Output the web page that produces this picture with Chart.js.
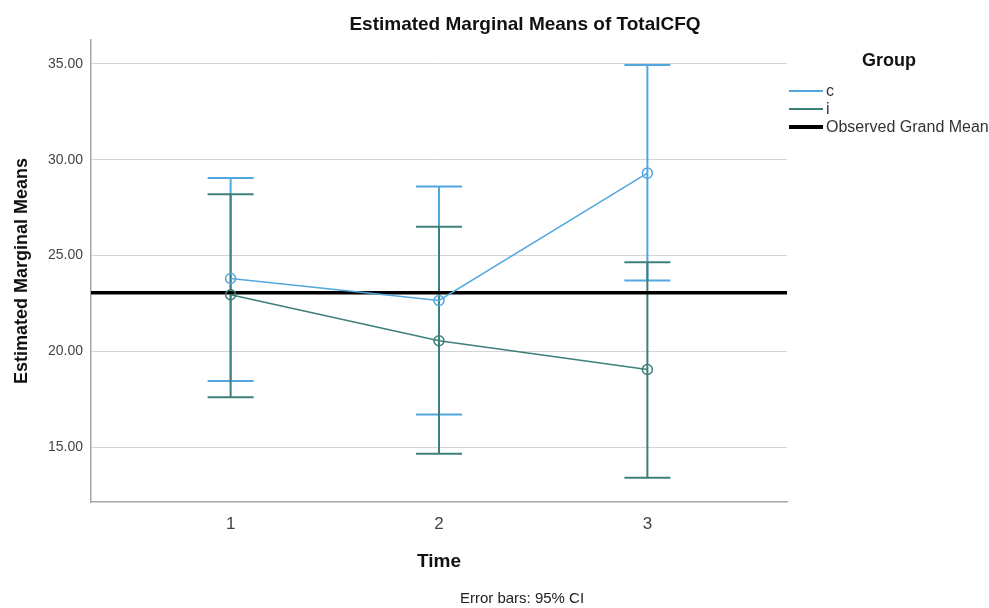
<!DOCTYPE html>
<html>
<head>
<meta charset="utf-8">
<script src="https://cdn.jsdelivr.net/npm/chart.js"></script>
<style>
  html, body { margin: 0; padding: 0; background: #fff; }
  #wrap { width: 989px; height: 608px; position: relative; }
</style>
</head>
<body>
<div id="wrap"><canvas id="chart1"></canvas></div>
<script>
// data
var times = [1, 2, 3];
var cMean  = [23.8, 22.65, 29.3];
var cLower = [18.45, 16.7, 23.7];
var cUpper = [29.05, 28.6, 34.95];
var iMean  = [22.95, 20.55, 19.05];
var iLower = [17.6, 14.65, 13.4];
var iUpper = [28.2, 26.5, 24.65];
var grandMean = 23.05;
var yTicks = [15, 20, 25, 30, 35];

var blue = '#52a7df';
var teal = '#3d7f7a';
var FONT = '"Liberation Sans", Arial, sans-serif';

function pts(means) {
    return times.map(function(t, k) { return {x: t, y: means[k]}; });
}
// vertical bar segments, separated by gaps
function errBars(lo, hi) {
    var out = [];
    times.forEach(function(t, k) {
        out.push({x: t, y: lo[k]}, {x: t, y: hi[k]}, {x: t, y: null});
    });
    return out;
}

// title, legend and footnote
var extras = {
    id: 'extras',
    afterDraw: function(chart) {
        var c = chart.ctx;
        c.save();
        c.fillStyle = '#111';
        c.textAlign = 'center';
        c.textBaseline = 'middle';
        c.font = 'bold 19px ' + FONT;
        c.fillText('Estimated Marginal Means of TotalCFQ', 525, 25);

        c.font = 'bold 18px ' + FONT;
        c.fillText('Group', 889, 61);

        var items = [
            {t: 'c', col: blue, w: 2, y: 91},
            {t: 'i', col: teal, w: 2, y: 109},
            {t: 'Observed Grand Mean', col: '#000', w: 4, y: 127}
        ];
        c.textAlign = 'left';
        c.font = '16px ' + FONT;
        items.forEach(function(it) {
            c.strokeStyle = it.col;
            c.lineWidth = it.w;
            c.beginPath();
            c.moveTo(789, it.y);
            c.lineTo(823, it.y);
            c.stroke();
            c.fillStyle = '#333';
            c.fillText(it.t, 826, it.y + 1);
        });

        c.textAlign = 'center';
        c.font = '15px ' + FONT;
        c.fillStyle = '#222';
        c.fillText('Error bars: 95% CI', 522, 599);
        c.restore();
    }
};

var ctx = document.getElementById('chart1').getContext('2d');
var myChart = new Chart(ctx, {
    type: 'scatter',
    data: {
        datasets: [{
            label: 'c',
            data: pts(cMean),
            showLine: true,
            borderColor: blue,
            borderWidth: 1.5,
            pointRadius: 5,
            pointBorderWidth: 1.5,
            pointBackgroundColor: 'rgba(0,0,0,0)',
            pointBorderColor: blue,
            order: 1
        },
        {
            label: 'i',
            data: pts(iMean),
            showLine: true,
            borderColor: teal,
            borderWidth: 1.5,
            pointRadius: 5,
            pointBorderWidth: 1.5,
            pointBackgroundColor: 'rgba(0,0,0,0)',
            pointBorderColor: teal,
            order: 0
        },
        {
            label: 'c CI',
            data: errBars(cLower, cUpper),
            showLine: true,
            spanGaps: false,
            borderColor: blue,
            borderWidth: 2,
            pointStyle: 'line',
            pointRadius: 23,
            pointBorderWidth: 2,
            pointBorderColor: blue,
            order: 4
        },
        {
            label: 'i CI',
            data: errBars(iLower, iUpper),
            showLine: true,
            spanGaps: false,
            borderColor: teal,
            borderWidth: 2,
            pointStyle: 'line',
            pointRadius: 23,
            pointBorderWidth: 2,
            pointBorderColor: teal,
            order: 3
        },
        {
            label: 'Observed Grand Mean',
            data: [{x: 0.33, y: grandMean}, {x: 3.67, y: grandMean}],
            showLine: true,
            borderColor: '#000',
            borderWidth: 3.5,
            pointRadius: 0,
            order: 2
        }]
    },
    options: {
        responsive: true,
        maintainAspectRatio: false,
        animation: false,
        events: [],
        layout: {
            padding: {left: 0, top: 40, right: 202, bottom: 0}
        },
        plugins: {
            legend: { display: false },
            tooltip: { enabled: false }
        },
        scales: {
            x: {
                type: 'linear',
                min: 0.33,
                max: 3.67,
                afterBuildTicks: function(s) {
                    s.ticks = times.map(function(v) { return {value: v}; });
                },
                afterFit: function(s) { s.height = 106; },
                grid: { display: false, drawTicks: false },
                border: { display: true, color: '#a6a6a6', width: 1.5 },
                ticks: {
                    padding: 12,
                    color: '#444',
                    font: { family: FONT, size: 17 },
                    callback: function(v) { return String(v); }
                },
                title: {
                    display: true,
                    text: 'Time',
                    color: '#111',
                    font: { family: FONT, size: 19, weight: 'bold' },
                    padding: { top: 0, bottom: 35 }
                }
            },
            y: {
                min: 12.13,
                max: 36.25,
                afterBuildTicks: function(s) {
                    s.ticks = yTicks.map(function(v) { return {value: v}; });
                },
                afterFit: function(s) { s.width = 91; },
                grid: { color: '#d3d3d3', lineWidth: 1, drawTicks: false },
                border: { display: true, color: '#a6a6a6', width: 1.5 },
                ticks: {
                    padding: 8,
                    color: '#444',
                    font: { family: FONT, size: 14 },
                    callback: function(v) { return v.toFixed(2); }
                },
                title: {
                    display: true,
                    text: 'Estimated Marginal Means',
                    color: '#111',
                    font: { family: FONT, size: 18, weight: 'bold' },
                    padding: { top: 11, bottom: 0 }
                }
            }
        }
    },
    plugins: [extras]
});
</script>
</body>
</html>
